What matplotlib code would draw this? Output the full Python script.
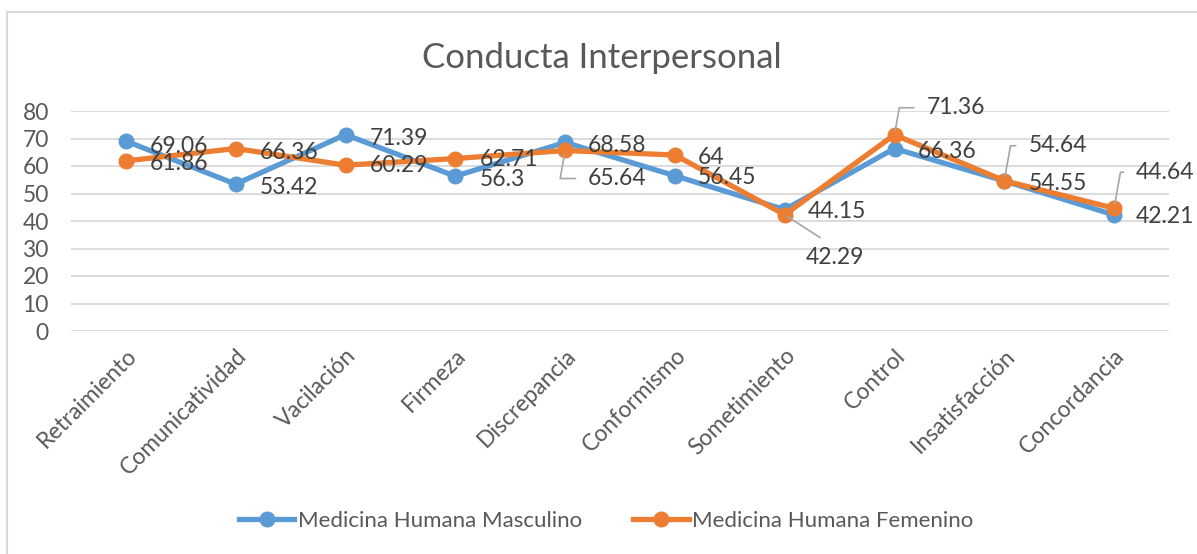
import matplotlib.pyplot as plt
from matplotlib.patches import Rectangle
from matplotlib.lines import Line2D

plt.rcParams['font.family'] = ['Lato', 'DejaVu Sans']

categories = ['Retraimiento', 'Comunicatividad', 'Vacilación', 'Firmeza', 'Discrepancia',
              'Conformismo', 'Sometimiento', 'Control', 'Insatisfacción', 'Concordancia']
masculino = [69.06, 53.42, 71.39, 56.3, 68.58, 56.45, 44.15, 66.36, 54.55, 42.21]
femenino = [61.86, 66.36, 60.29, 62.71, 65.64, 64, 42.29, 71.36, 54.64, 44.64]
masc_labels = ['69.06', '53.42', '71.39', '56.3', '68.58', '56.45', '44.15', '66.36', '54.55', '42.21']
fem_labels = ['61.86', '66.36', '60.29', '62.71', '65.64', '64', '42.29', '71.36', '54.64', '44.64']

blue = '#5B9BD5'
orange = '#ED7D31'
grid_col = '#D9D9D9'
text_col = '#595959'
label_col = '#404040'

fig = plt.figure(figsize=(11.97, 5.54), dpi=100)
W, H = 1197, 554
ax = fig.add_axes([71 / W, 1 - 331 / H, (1169 - 71) / W, 220 / H])

# chart area border (left and top visible)
fig.patches.append(Rectangle((7 / W, -0.1), 1.2, 1 - 12 / H + 0.1, transform=fig.transFigure,
                             fill=False, edgecolor='#D9D9D9', linewidth=1.5))

x = list(range(len(categories)))
ax.plot(x, masculino, color=blue, lw=3.8, marker='o', ms=10.5, solid_joinstyle='round',
        label='Medicina Humana Masculino', zorder=3)
ax.plot(x, femenino, color=orange, lw=3.8, marker='o', ms=10.5, solid_joinstyle='round',
        label='Medicina Humana Femenino', zorder=4)

ax.set_xlim(-0.5, len(categories) - 0.5)
ax.set_ylim(0, 80)
ax.set_yticks(range(0, 81, 10))
ax.yaxis.grid(True, color=grid_col, lw=1.3)
ax.set_axisbelow(True)
for s in ax.spines.values():
    s.set_visible(False)
ax.tick_params(axis='both', length=0, colors=text_col)
ax.tick_params(axis='y', pad=16, labelsize=16.5)
ax.set_xticks(x)
ax.set_xticklabels(categories, rotation=45, ha='right', va='top', rotation_mode='anchor')
ax.tick_params(axis='x', pad=10, labelsize=16.5)

# data labels: offsets in pixels
fs = 16.5
masc_off = [(24, -5), (24, -3), (24, -4), (24, -3), (23, -3), (23, -2), (23, -2), (23, -3), (24, -3), (22, -2)]
for xi, v, t, off in zip(x, masculino, masc_labels, masc_off):
    ax.annotate(t, (xi, v), xytext=off, textcoords='offset pixels', ha='left', va='center',
                fontsize=fs, color=label_col, zorder=5)

fem_off = [(24, -3), (24, -4), (24, 0), (24, -1), (23, -28), (23, -2), (21, -43), (32, 27), (24, 35), (22, 36)]
fem_leader = [None, None, None, None, 'angle', None, 'straight', 'angle', 'angle', 'angle']
for xi, v, t, off, lead in zip(x, femenino, fem_labels, fem_off, fem_leader):
    if lead == 'angle':
        ax.annotate(t, (xi, v), xytext=off, textcoords='offset pixels', ha='left', va='center',
                    fontsize=fs, color=label_col, zorder=5,
                    arrowprops=dict(arrowstyle='-', color='#A6A6A6', lw=1.2,
                                    connectionstyle='angle,angleA=0,angleB=80,rad=0',
                                    relpos=(0, 0.5), shrinkA=7, shrinkB=3))
    elif lead == 'straight':
        ax.annotate(t, (xi, v), xytext=off, textcoords='offset pixels', ha='left', va='center',
                    fontsize=fs, color=label_col, zorder=5,
                    arrowprops=dict(arrowstyle='-', color='#A6A6A6', lw=1.2,
                                    relpos=(0.5, 1), shrinkA=9, shrinkB=2))
    else:
        ax.annotate(t, (xi, v), xytext=off, textcoords='offset pixels', ha='left', va='center',
                    fontsize=fs, color=label_col, zorder=5)

fig.text(602 / W, 1 - 58 / H, 'Conducta Interpersonal', ha='center', va='center',
         fontsize=25, color=text_col)

handles = [Line2D([], [], color=blue, lw=3.8, marker='o', ms=10.5),
           Line2D([], [], color=orange, lw=3.8, marker='o', ms=10.5)]
fig.legend(handles, ['Medicina Humana Masculino', 'Medicina Humana Femenino'],
           loc='center', bbox_to_anchor=(606 / W, 1 - 521 / H), ncol=2, frameon=False,
           fontsize=16, labelcolor=text_col, handlelength=2.5, handletextpad=0.15,
           columnspacing=2.3)

fig.savefig('out.png', dpi=100)
